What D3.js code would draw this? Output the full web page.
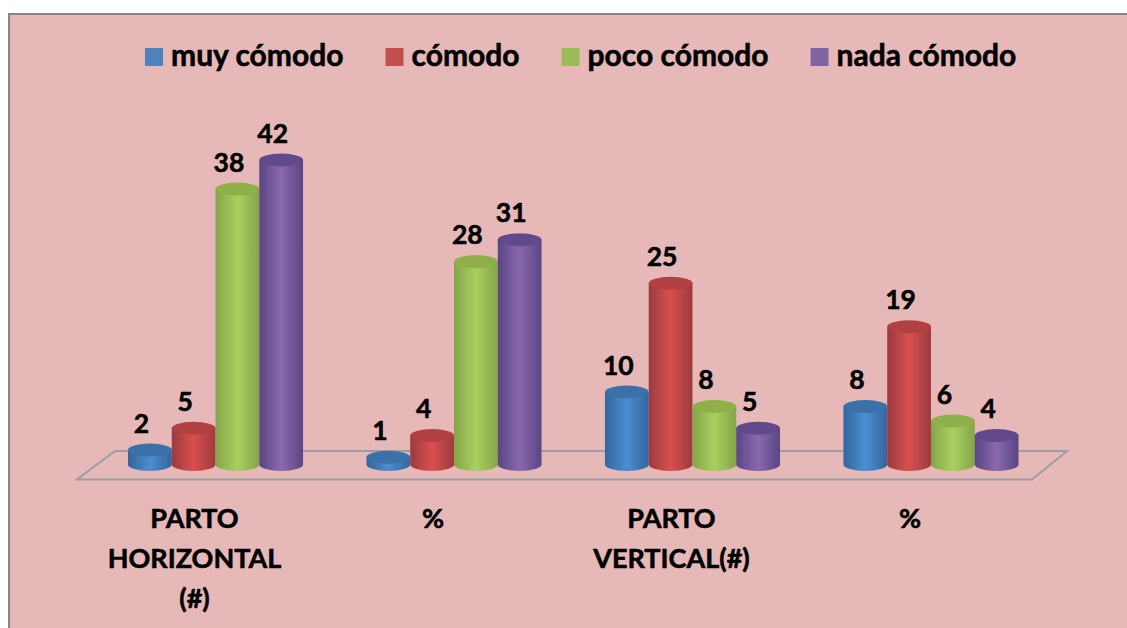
<!DOCTYPE html>
<html><head><meta charset="utf-8">
<script src="https://cdn.jsdelivr.net/npm/d3@7"></script>
<style>html,body{margin:0;padding:0;background:#fff}svg{display:block}text{font-family:Lato,"Open Sans",sans-serif;font-weight:700;fill:#000;stroke:#000;stroke-width:.55px}</style>
</head><body><svg id="c" width="1127" height="628"></svg>
<script>
const categoryLines = [["PARTO","HORIZONTAL","(#)"],["%"],["PARTO","VERTICAL(#)"],["%"]];
const seriesNames = ["muy cómodo","cómodo","poco cómodo","nada cómodo"];
const muyComodo = [2,1,10,8];
const comodo = [5,4,25,19];
const pocoComodo = [38,28,8,6];
const nadaComodo = [42,31,5,4];
const seriesValues = [muyComodo,comodo,pocoComodo,nadaComodo];
const legendColors = ["#4f81bd","#c0504d","#9bbb59","#8064a2"];
const edgeColors = ["#33659c","#9c3a3e","#84a548","#5a4583"];
const midColors = ["#4a8fd0","#d9504f","#a9d05f","#8a68b0"];
const topColors = ["#3a6fa8","#b03f42","#8fb04a","#624a8c"];

const W=1127,H=628;
const svg=d3.select("#c");
const defs=svg.append("defs");
defs.append("filter").attr("id","soft").append("feGaussianBlur").attr("stdDeviation",0.7);
seriesNames.forEach((s,i)=>{
  const g=defs.append("linearGradient").attr("id","g"+i);
  [[0,edgeColors[i]],[0.5,midColors[i]],[1,edgeColors[i]]].forEach(([o,c])=>g.append("stop").attr("offset",o).attr("stop-color",c));
});
// panel
svg.append("rect").attr("x",9).attr("y",14).attr("width",W+20).attr("height",H+20)
  .attr("fill","#e6b8b7").attr("stroke","#868686").attr("stroke-width",2);

// scales
const x0=d3.scaleBand().domain(d3.range(categoryLines.length)).range([128,1018.5]).paddingInner(0.266);
const x1=d3.scaleBand().domain(d3.range(seriesNames.length)).range([0,x0.bandwidth()]);
const y=d3.scaleLinear().domain([0,42]).range([464.5,160]);
const ry=6.5;

// floor
const front=479.5, back=451;
svg.append("path").attr("d",`M77,${front}L1032,${front}L1067,${back}L115,${back}Z`)
  .attr("fill","none").attr("stroke","#96a0a4").attr("stroke-width",2).attr("filter","url(#soft)");

// cylinders
const bars=svg.append("g").attr("filter","url(#soft)");
categoryLines.forEach((_,c)=>{
  seriesValues.forEach((vals,s)=>{
    const v=vals[c], l=x0(c)+x1(s), rx=x1.bandwidth()/2, cx=l+rx, t=y(v), b=y(0);
    bars.append("path")
      .attr("d",`M${l},${t}L${l},${b}A${rx},${ry} 0 0 0 ${l+2*rx},${b}L${l+2*rx},${t}Z`)
      .attr("fill",`url(#g${s})`);
    bars.append("ellipse").attr("cx",cx).attr("cy",t).attr("rx",rx).attr("ry",ry).attr("fill",topColors[s]);
  });
});
// value labels
categoryLines.forEach((_,c)=>{
  seriesValues.forEach((vals,s)=>{
    const v=vals[c], cx=x0(c)+x1(s)+x1.bandwidth()/2;
    svg.append("text").attr("x",cx-8.5).attr("y",y(v)-17.5).attr("text-anchor","middle")
      .attr("font-size",26.5).text(v);
  });
});
// category labels
categoryLines.forEach((lines,c)=>{
  const cx=x0(c)+x0.bandwidth()/2-21;
  lines.forEach((t,i)=>svg.append("text").attr("x",cx).attr("y",528+i*40).attr("text-anchor","middle").attr("font-size",27).text(t));
});
// legend
let lx=145;
seriesNames.forEach((n,i)=>{
  svg.append("rect").attr("x",lx).attr("y",48).attr("width",18).attr("height",18).attr("fill",legendColors[i]);
  const t=svg.append("text").attr("x",lx+26).attr("y",66).attr("font-size",30).text(n);
  lx+=26+t.node().getComputedTextLength()+42;
});
</script></body></html>
